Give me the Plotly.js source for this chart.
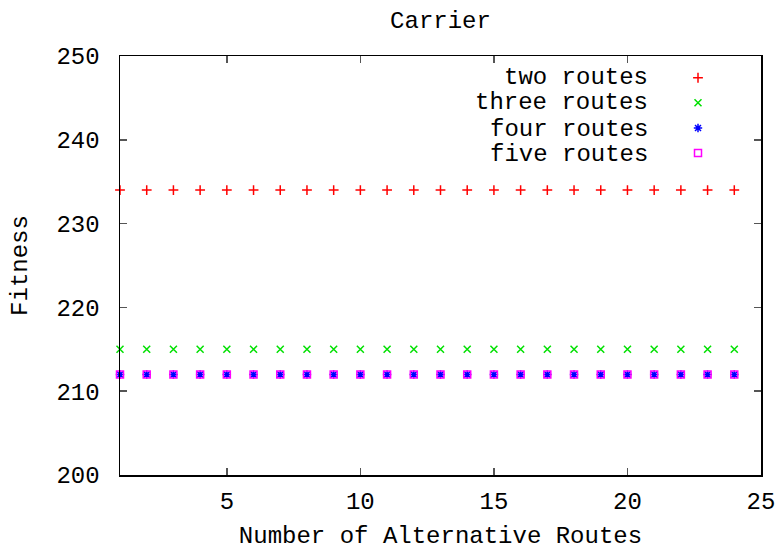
<!DOCTYPE html>
<html>
<head>
<meta charset="utf-8">
<script src="https://cdn.plot.ly/plotly-3.0.1.min.js"></script>
<style>html,body{margin:0;padding:0;background:#fff;}</style>
</head>
<body>
<div id="chart" style="width:782px;height:550px;"></div>
<script>
const routes = [1,2,3,4,5,6,7,8,9,10,11,12,13,14,15,16,17,18,19,20,21,22,23,24];
const twoRoutes   = [234,234,234,234,234,234,234,234,234,234,234,234,234,234,234,234,234,234,234,234,234,234,234,234];
const threeRoutes = [215,215,215,215,215,215,215,215,215,215,215,215,215,215,215,215,215,215,215,215,215,215,215,215];
const fourRoutes  = [212,212,212,212,212,212,212,212,212,212,212,212,212,212,212,212,212,212,212,212,212,212,212,212];
const fiveRoutes  = [212,212,212,212,212,212,212,212,212,212,212,212,212,212,212,212,212,212,212,212,212,212,212,212];
const seriesNames = ['two routes','three routes','four routes','five routes'];
const xTickVals = [5,10,15,20,25];
const yTickVals = [200,210,220,230,240,250];

const FONT = 'Liberation Mono, Courier New, monospace';

function tr(y, name, symbol, color, size){
  return {x: routes, y: y, type:'scatter', mode:'markers', name: ' ',
    marker:{symbol: symbol, size: size, color: color, line:{color: color, width:1.5}},
    cliponaxis:false, hoverinfo:'skip'};
}
const data = [
  tr(twoRoutes, seriesNames[0], 'cross-thin-open', '#ff0000', 7),
  tr(threeRoutes, seriesNames[1], 'x-thin-open', '#00e000', 7),
  tr(fourRoutes, seriesNames[2], 'asterisk-open', '#0000ff', 7),
  tr(fiveRoutes, seriesNames[3], 'square-open', '#ff00ff', 7)
];

const rowY = [0.9476, 0.8879, 0.8257, 0.7661];
const annotations = seriesNames.map((n,i)=>({
  text: n, xref:'paper', yref:'paper', x: (650-120)/641, y: rowY[i],
  xanchor:'right', yanchor:'middle', showarrow:false, height:25,
  font:{family:FONT, size:24, color:'#000'}
}));

const layout = {
  width:782, height:550,
  margin:{l:120, r:21, t:56, b:75},
  paper_bgcolor:'#fff', plot_bgcolor:'#fff',
  font:{family:FONT, size:24, color:'#000'},
  title:{text:'Carrier', font:{family:FONT, size:24, color:'#000'}, xref:'paper', x:0.5, xanchor:'center', y:1-20/550, yanchor:'middle'},
  xaxis:{range:[1,25], tickvals:xTickVals, ticks:'inside', ticklen:7, tickwidth:1.5, tickcolor:'#555',
    showline:true, linecolor:'#000', linewidth:1.5, mirror:'ticks', showgrid:false, zeroline:false,
    ticklabelstandoff:4,
    title:{text:'Number of Alternative Routes', font:{family:FONT, size:24}, standoff:14}},
  yaxis:{range:[200,250], tickvals:yTickVals, ticks:'inside', ticklen:7, tickwidth:1.5, tickcolor:'#555',
    showline:true, linecolor:'#000', linewidth:1.5, mirror:'ticks', showgrid:false, zeroline:false,
    ticklabelstandoff:14,
    title:{text:'Fitness', font:{family:FONT, size:24}, standoff:22}},
  showlegend:true,
  legend:{x:(678-120)/641, y:0.99, xanchor:'left', yanchor:'top', bgcolor:'rgba(0,0,0,0)',
    font:{family:FONT, size:17}, itemsizing:'trace', tracegroupgap:0},
  annotations: annotations
};

Plotly.newPlot('chart', data, layout, {displayModeBar:false, staticPlot:true});
</script>
</body>
</html>
